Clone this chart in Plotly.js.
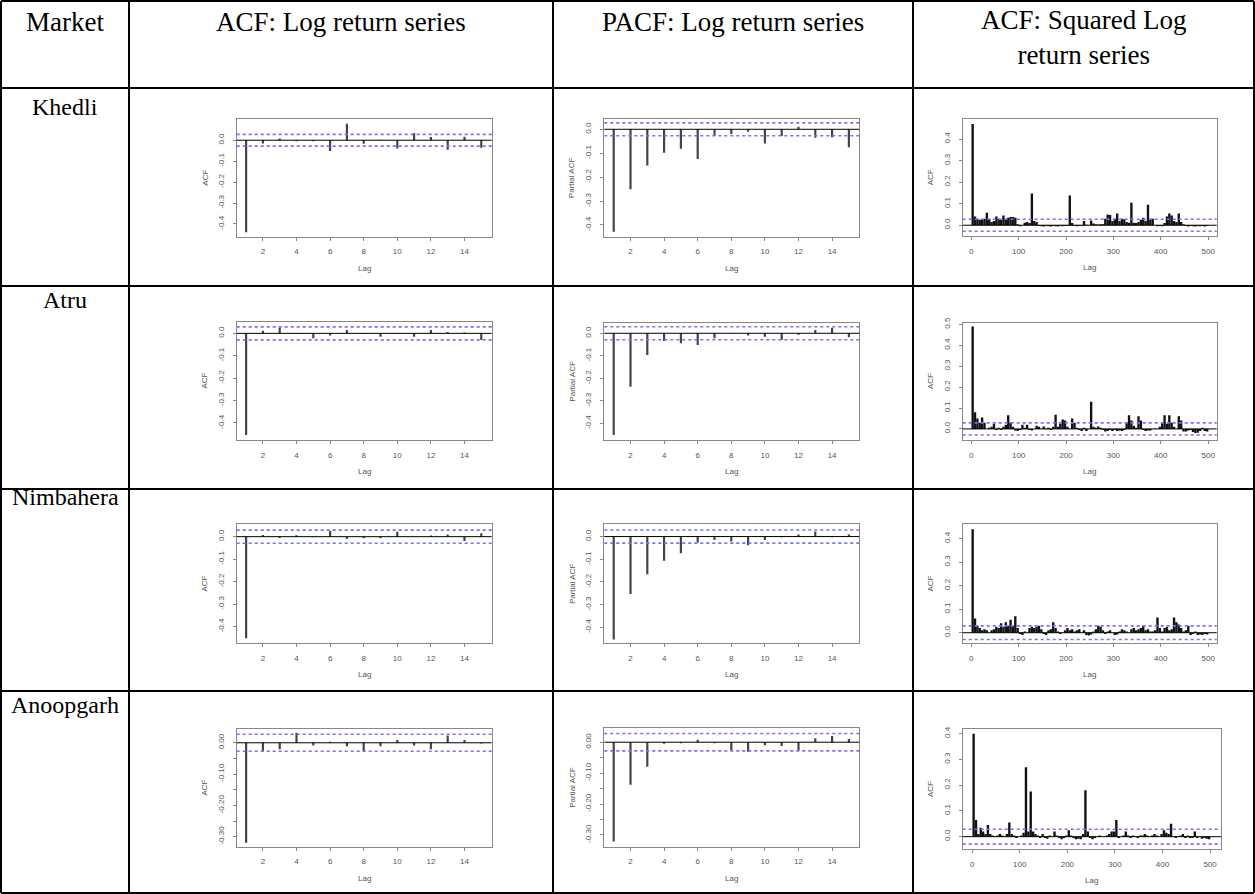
<!DOCTYPE html>
<html><head><meta charset="utf-8">
<script src="https://cdn.plot.ly/plotly-3.0.1.min.js"></script>
<style>html,body{margin:0;padding:0;background:#fff;}#chart{width:1255px;height:894px;}</style>
</head><body><div id="chart"></div>
<script>
// ---------- data ----------
const headers = ["Market", "ACF: Log return series", "PACF: Log return series", "ACF: Squared Log<br>return series"];
const markets = ["Khedli", "Atru", "Nimbahera", "Anoopgarh"];
const lags = [1,2,3,4,5,6,7,8,9,10,11,12,13,14,15];

const khedliAcf  = [-0.44, -0.016, 0.008, -0.005, -0.005, -0.052, 0.079, -0.017, 0.002, -0.04, 0.035, 0.016, -0.046, 0.017, -0.036];
const khedliPacf = [-0.428, -0.251, -0.151, -0.098, -0.081, -0.124, -0.028, -0.02, -0.01, -0.059, -0.028, 0.011, -0.035, -0.033, -0.075];
const atruAcf    = [-0.454, 0.012, 0.025, -0.003, -0.022, -0.01, 0.015, -0.003, -0.015, -0.001, -0.015, 0.015, 0.006, 0.004, -0.03];
const atruPacf   = [-0.452, -0.237, -0.096, -0.034, -0.044, -0.052, -0.022, -0.002, -0.01, -0.015, -0.03, -0.006, 0.015, 0.025, -0.018];
const nimbaheraAcf  = [-0.452, 0.007, -0.006, 0.006, -0.003, 0.025, -0.01, -0.007, -0.007, 0.022, 0.001, 0.005, 0.01, -0.019, 0.015];
const nimbaheraPacf = [-0.453, -0.253, -0.166, -0.107, -0.074, -0.026, -0.015, -0.022, -0.038, -0.015, -0.003, 0.009, 0.022, -0.003, 0.009];
const anoopgarhAcf  = [-0.319, -0.027, -0.021, 0.032, -0.009, 0.003, -0.011, -0.026, -0.011, 0.009, -0.009, -0.021, 0.023, 0.009, -0.002];
const anoopgarhPacf = [-0.321, -0.138, -0.079, -0.005, -0.003, 0.008, -0.003, -0.028, -0.031, -0.01, -0.012, -0.027, 0.013, 0.02, 0.01];

// squared log-return ACF, read in 5-lag bins (lags 1-5, 6-10, ..., 496-500)
const khedliSq = [
 0.47, 0.04, 0.03, 0.025, 0.028, 0.03, 0.058, 0.03, 0.015, 0.02,
 0.04, 0.03, 0.025, 0.045, 0.03, 0.035, 0.038, 0.038, 0.035, 0.005,
 -0.005, 0.0, 0.012, 0.015, 0.01, 0.147, 0.02, 0.015, -0.004, -0.005,
 -0.006, -0.004, -0.005, -0.006, -0.004, -0.005, -0.006, -0.004, -0.005, -0.003,
 -0.004, 0.138, 0.01, -0.004, -0.005, -0.003, -0.004, 0.02, 0.002, 0.0,
 0.022, 0.008, 0.004, 0.003, 0.005, 0.004, 0.03, 0.05, 0.048, 0.02,
 0.03, 0.055, 0.02, 0.03, 0.028, 0.015, 0.012, 0.105, 0.012, 0.01,
 0.015, 0.025, 0.035, 0.02, 0.095, 0.03, 0.03, 0.0, -0.005, -0.003,
 -0.005, 0.01, 0.04, 0.055, 0.045, 0.02, 0.015, 0.055, 0.015, 0.005,
 -0.004, -0.006, -0.004, -0.005, -0.006, -0.004, -0.005, -0.004, -0.006, -0.003];
const atruSq = [
 0.49, 0.08, 0.05, 0.03, 0.055, 0.03, 0.0, 0.005, 0.01, 0.025,
 -0.005, 0.005, -0.005, 0.01, 0.02, 0.065, 0.03, 0.01, -0.008, -0.01,
 -0.005, 0.02, 0.005, 0.02, -0.005, -0.008, 0.0, 0.015, 0.01, 0.0,
 0.012, -0.002, 0.005, -0.005, 0.01, 0.068, 0.01, 0.025, 0.045, 0.04,
 0.01, 0.0, 0.05, 0.03, 0.005, -0.005, -0.01, 0.005, -0.01, 0.0,
 0.13, 0.01, 0.005, 0.012, 0.005, -0.005, -0.012, -0.01, -0.005, -0.01,
 -0.005, -0.01, -0.008, -0.01, -0.005, 0.03, 0.065, 0.04, 0.015, 0.005,
 0.06, 0.04, -0.005, -0.01, -0.008, -0.008, 0.0, 0.002, 0.0, 0.01,
 0.03, 0.065, 0.025, 0.065, 0.03, 0.01, 0.0, 0.06, 0.04, -0.012,
 -0.012, -0.008, -0.005, -0.015, -0.02, -0.018, -0.01, 0.005, -0.01, -0.012];
const nimbaheraSq = [
 0.44, 0.06, 0.03, 0.02, 0.01, 0.015, 0.01, 0.0, 0.01, 0.015,
 0.025, 0.02, 0.04, 0.025, 0.045, 0.03, 0.055, 0.03, 0.07, 0.02,
 -0.005, -0.01, 0.005, 0.0, 0.02, 0.025, 0.02, 0.025, 0.03, 0.015,
 -0.005, -0.01, 0.01, 0.015, 0.045, 0.02, 0.005, -0.005, 0.0, 0.01,
 0.02, 0.01, 0.015, 0.005, 0.01, 0.015, 0.0, 0.01, -0.01, -0.012,
 -0.008, 0.005, 0.015, 0.03, 0.025, 0.01, -0.005, 0.005, 0.01, 0.0,
 -0.01, -0.008, 0.005, 0.015, 0.01, 0.005, 0.0, 0.015, 0.02, 0.01,
 0.015, 0.02, 0.03, 0.01, 0.015, 0.005, 0.005, 0.01, 0.065, 0.02,
 0.005, 0.02, 0.025, 0.01, 0.015, 0.065, 0.045, 0.035, 0.02, 0.005,
 0.01, 0.03, -0.01, -0.005, 0.005, -0.01, -0.008, -0.01, -0.005, -0.008];
const anoopgarhSq = [
 0.40, 0.065, 0.01, 0.035, 0.02, 0.01, 0.045, 0.01, 0.005, 0.0,
 0.005, 0.01, 0.005, 0.0, 0.01, 0.055, 0.01, 0.005, -0.005, 0.0,
 0.005, 0.015, 0.27, 0.02, 0.175, 0.02, 0.01, 0.005, -0.005, 0.01,
 -0.005, -0.008, 0.005, 0.0, 0.02, 0.005, -0.005, -0.01, -0.005, 0.005,
 0.025, 0.005, -0.005, -0.01, -0.008, -0.01, 0.01, 0.18, 0.02, -0.005,
 -0.01, -0.005, 0.0, 0.005, 0.0, 0.0, 0.005, 0.01, 0.02, 0.02,
 0.065, -0.005, 0.0, 0.005, 0.02, 0.005, -0.005, 0.005, 0.0, -0.005,
 0.005, 0.005, 0.01, 0.005, 0.0, 0.005, 0.01, 0.005, 0.0, 0.01,
 0.025, 0.015, 0.01, 0.05, 0.0, -0.005, 0.0, 0.005, 0.01, -0.005,
 0.005, -0.005, -0.005, 0.02, -0.005, 0.0, -0.008, -0.005, -0.008, -0.01];
const sqLagBins = Array.from({length: 100}, (_, k) => 5 * k + 3);

// tick labels
const lagTicks = [2, 4, 6, 8, 10, 12, 14];
const lagTickText = ["2", "4", "6", "8", "10", "12", "14"];
const sqLagTicks = [0, 100, 200, 300, 400, 500];
const sqLagTickText = ["0", "100", "200", "300", "400", "500"];
const negTicks = [0, -0.1, -0.2, -0.3, -0.4];
const negTickText = ["0.0", "-0.1", "-0.2", "-0.3", "-0.4"];
const negTicks2 = [0, -0.05, -0.1, -0.15, -0.2, -0.25, -0.3];
const negTickText2 = ["0.00", "", "-0.10", "", "-0.20", "", "-0.30"];
const sqTicks = [0, 0.1, 0.2, 0.3, 0.4];
const sqTickText = ["0.0", "0.1", "0.2", "0.3", "0.4"];
const sqTicks5 = [0, 0.1, 0.2, 0.3, 0.4, 0.5];
const sqTickText5 = ["0.0", "0.1", "0.2", "0.3", "0.4", "0.5"];

// ---------- layout ----------
const W = 1255, H = 894;
const colX = [1, 129, 553, 913, 1254];
const rowY = [1, 88, 286, 489, 691, 893];

const lagRange = [0.44, 15.62];
const sqRange = [-18, 518];
const specs = [
 {box:[236.7,119.3,491.7,236.7], x:lags, y:khedliAcf, xr:lagRange, yr:[-0.461,0.1], xt:lagTicks, xl:lagTickText, yt:negTicks, yl:negTickText, yt2:"ACF", ci:0.028, sq:false},
 {box:[604.3,119.0,859.3,236.7], x:lags, y:khedliPacf, xr:lagRange, yr:[-0.449,0.043], xt:lagTicks, xl:lagTickText, yt:negTicks, yl:negTickText, yt2:"Partial ACF", ci:0.027, sq:false},
 {box:[962.7,119.3,1216.7,236.0], x:sqLagBins, y:khedliSq, xr:sqRange, yr:[-0.05,0.492], xt:sqLagTicks, xl:sqLagTickText, yt:sqTicks, yl:sqTickText, yt2:"ACF", ci:0.028, sq:true},
 {box:[236.7,321.7,491.7,440.0], x:lags, y:atruAcf, xr:lagRange, yr:[-0.476,0.052], xt:lagTicks, xl:lagTickText, yt:negTicks, yl:negTickText, yt2:"ACF", ci:0.029, sq:false},
 {box:[604.3,322.7,859.3,440.0], x:lags, y:atruPacf, xr:lagRange, yr:[-0.474,0.047], xt:lagTicks, xl:lagTickText, yt:negTicks, yl:negTickText, yt2:"Partial ACF", ci:0.029, sq:false},
 {box:[962.7,322.7,1216.7,440.0], x:sqLagBins, y:atruSq, xr:sqRange, yr:[-0.053,0.508], xt:sqLagTicks, xl:sqLagTickText, yt:sqTicks5, yl:sqTickText5, yt2:"ACF", ci:0.029, sq:true},
 {box:[236.7,524.3,491.7,643.3], x:lags, y:nimbaheraAcf, xr:lagRange, yr:[-0.474,0.055], xt:lagTicks, xl:lagTickText, yt:negTicks, yl:negTickText, yt2:"ACF", ci:0.029, sq:false},
 {box:[604.3,524.3,859.3,643.3], x:lags, y:nimbaheraPacf, xr:lagRange, yr:[-0.47,0.054], xt:lagTicks, xl:lagTickText, yt:negTicks, yl:negTickText, yt2:"Partial ACF", ci:0.029, sq:false},
 {box:[962.7,524.3,1216.7,643.3], x:sqLagBins, y:nimbaheraSq, xr:sqRange, yr:[-0.045,0.461], xt:sqLagTicks, xl:sqLagTickText, yt:sqTicks, yl:sqTickText, yt2:"ACF", ci:0.029, sq:true},
 {box:[236.7,729.0,491.7,846.7], x:lags, y:anoopgarhAcf, xr:lagRange, yr:[-0.332,0.044], xt:lagTicks, xl:lagTickText, yt:negTicks2, yl:negTickText2, yt2:"ACF", ci:0.027, sq:false},
 {box:[604.3,728.3,859.3,846.7], x:lags, y:anoopgarhPacf, xr:lagRange, yr:[-0.338,0.045], xt:lagTicks, xl:lagTickText, yt:negTicks2, yl:negTickText2, yt2:"Partial ACF", ci:0.028, sq:false},
 {box:[962.7,729.3,1221.0,849.3], x:sqLagBins, y:anoopgarhSq, xr:[-20,523], xt:sqLagTicks, xl:sqLagTickText, yr:[-0.049,0.417], yt:sqTicks, yl:sqTickText, yt2:"ACF", ci:0.029, sq:true}
];

const smallFont = {family: "Liberation Sans, Arial, sans-serif", size: 8, color: "#555"};
const serifHead = {family: "Liberation Serif, Times New Roman, serif", size: 27, color: "#000"};
const serifName = {family: "Liberation Serif, Times New Roman, serif", size: 24, color: "#000"};
const data = [];
const layout = {width: W, height: H, margin: {l:0, r:0, t:0, b:0}, showlegend: false,
  paper_bgcolor: "#fff", plot_bgcolor: "rgba(0,0,0,0)", shapes: [], annotations: []};

specs.forEach((s, k) => {
  const n = k + 1, suf = n > 1 ? String(n) : "";
  const xa = "x" + suf, ya = "y" + suf;
  const [l, t, r, b] = s.box;
  data.push({type: "bar", x: s.x, y: s.y, width: s.sq ? 5 : 0.13, xaxis: xa, yaxis: ya,
    marker: {color: s.sq ? "#111" : "#444", line: {width: 0}}, hoverinfo: "x+y"});
  const common = {showgrid: false, zeroline: false, showline: true, mirror: true, linecolor: "#888", linewidth: 1,
    ticks: "outside", ticklen: 3, tickwidth: 1, tickcolor: "#888", tickfont: smallFont, fixedrange: true};
  layout["xaxis" + suf] = Object.assign({}, common, {domain: [l / W, r / W], anchor: ya, range: s.xr,
    tickmode: "array", tickvals: s.xt, ticktext: s.xl, ticklabelstandoff: 4});
  layout["yaxis" + suf] = Object.assign({}, common, {domain: [1 - b / H, 1 - t / H], anchor: xa, range: s.yr,
    tickmode: "array", tickvals: s.yt, ticktext: s.yl, tickangle: -90, ticklabelstandoff: 6});
  [s.ci, -s.ci].forEach(v => layout.shapes.push({type: "line", xref: xa + " domain", yref: ya, x0: 0, x1: 1, y0: v, y1: v,
    line: {color: "#7272ff", width: 1.6, dash: "dot"}}));
  layout.shapes.push({type: "line", xref: xa + " domain", yref: ya, x0: 0, x1: 1, y0: 0, y1: 0, line: {color: "#000", width: 1}});
  layout.annotations.push({xref: "paper", yref: "paper", x: (l + r) / 2 / W, y: 1 - (b + 31.6) / H, text: "Lag",
    showarrow: false, font: smallFont, xanchor: "center", yanchor: "middle"});
  layout.annotations.push({xref: "paper", yref: "paper", x: (l - 32) / W, y: 1 - (t + b) / 2 / H, text: s.yt2,
    textangle: -90, showarrow: false, font: smallFont, xanchor: "center", yanchor: "middle"});
});

// table grid
colX.forEach(x => layout.shapes.push({type: "line", xref: "paper", yref: "paper", x0: x / W, x1: x / W, y0: 1 - rowY[0] / H, y1: 1 - rowY[5] / H, line: {color: "#000", width: 2}}));
rowY.forEach(y => layout.shapes.push({type: "line", xref: "paper", yref: "paper", x0: colX[0] / W, x1: colX[4] / W, y0: 1 - y / H, y1: 1 - y / H, line: {color: "#000", width: 2}}));

// header texts
const headerY = [22, 22, 22, 38];
headers.forEach((h, i) => layout.annotations.push({xref: "paper", yref: "paper", x: (colX[i] + colX[i + 1]) / 2 / W,
  y: 1 - headerY[i] / H, text: h, showarrow: false, font: serifHead, xanchor: "center", yanchor: "middle"}));
const marketY = [107, 300, 497, 705];
markets.forEach((m, i) => layout.annotations.push({xref: "paper", yref: "paper", x: (colX[0] + colX[1]) / 2 / W,
  y: 1 - marketY[i] / H, text: m, showarrow: false, font: serifName, xanchor: "center", yanchor: "middle"}));

Plotly.newPlot("chart", data, layout, {displayModeBar: false, staticPlot: true});
</script></body></html>
